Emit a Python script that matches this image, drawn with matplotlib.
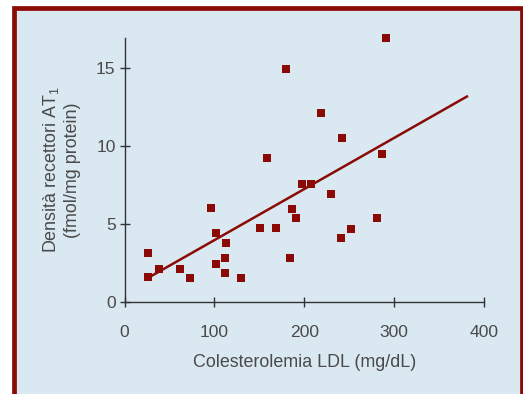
import matplotlib
matplotlib.use("Agg")
import matplotlib.pyplot as plt
from matplotlib.patches import Rectangle

plt.rcParams["font.family"] = ["Liberation Sans", "DejaVu Sans"]
plt.rcParams["mathtext.fontset"] = "custom"
plt.rcParams["mathtext.rm"] = "Liberation Sans"
plt.rcParams["mathtext.it"] = "Liberation Sans"

# ---- dati ----
ldl = [26, 26, 38, 62, 73, 96, 102, 102, 113, 112, 112, 129, 151, 158,
       169, 180, 184, 186, 191, 197, 208, 219, 230, 241, 242, 252, 281,
       287, 291]
densita = [3.13, 1.59, 2.10, 2.10, 1.52, 6.02, 4.41, 2.42, 3.77, 2.81,
           1.84, 1.52, 4.71, 9.23, 4.71, 14.9, 2.81, 5.95, 5.38, 7.56,
           7.56, 12.12, 6.92, 4.09, 10.51, 4.67, 5.38, 9.49, 16.87]
retta_x = [28, 381]
retta_y = [1.59, 13.15]

xticks = [0, 100, 200, 300, 400]
yticks = [0, 5, 10, 15]

ROSSO = "#8b0a06"
BLU = "#d9e8f1"
GRIGIO = "#4a4a4a"

fig = plt.figure(figsize=(5.23, 3.94), dpi=100)
fig.patch.set_facecolor("white")

# cornice
W, H = 523, 394
fig.patches.append(Rectangle((14 / W, -0.05), (521.5 - 14) / W, 1.05 - 8 / H,
                             transform=fig.transFigure, facecolor=BLU,
                             edgecolor=ROSSO, linewidth=3.4, zorder=-10))

ax = fig.add_axes([124.6 / W, 1 - 301.7 / H, (484 - 124.6) / W, (301.7 - 38) / H])
ax.set_facecolor("none")

ax.plot(retta_x, retta_y, "-", color=ROSSO, lw=1.8, zorder=2)
ax.scatter(ldl, densita, marker="s", s=5.8 ** 2, color=ROSSO, linewidths=0,
           zorder=3, clip_on=False)

ax.set_xlim(0, 400)
ax.set_ylim(0, 16.9)
ax.set_xticks(xticks)
ax.set_yticks(yticks)

for s in ["top", "right"]:
    ax.spines[s].set_visible(False)
for s in ["left", "bottom"]:
    ax.spines[s].set_color("#333333")
    ax.spines[s].set_linewidth(1.0)

ax.tick_params(axis="both", direction="inout", length=7, width=1.0,
               color="#333333", labelcolor=GRIGIO, labelsize=12.6)
ax.tick_params(axis="x", pad=13)
ax.tick_params(axis="y", pad=3)

ax.set_xlabel("Colesterolemia LDL (mg/dL)", fontsize=12.9, color=GRIGIO, labelpad=10)
ax.set_ylabel("Densità recettori AT$_1$\n(fmol/mg protein)", fontsize=12.9,
              color=GRIGIO, labelpad=11, linespacing=1.25)

fig.savefig("out.png", dpi=100)
